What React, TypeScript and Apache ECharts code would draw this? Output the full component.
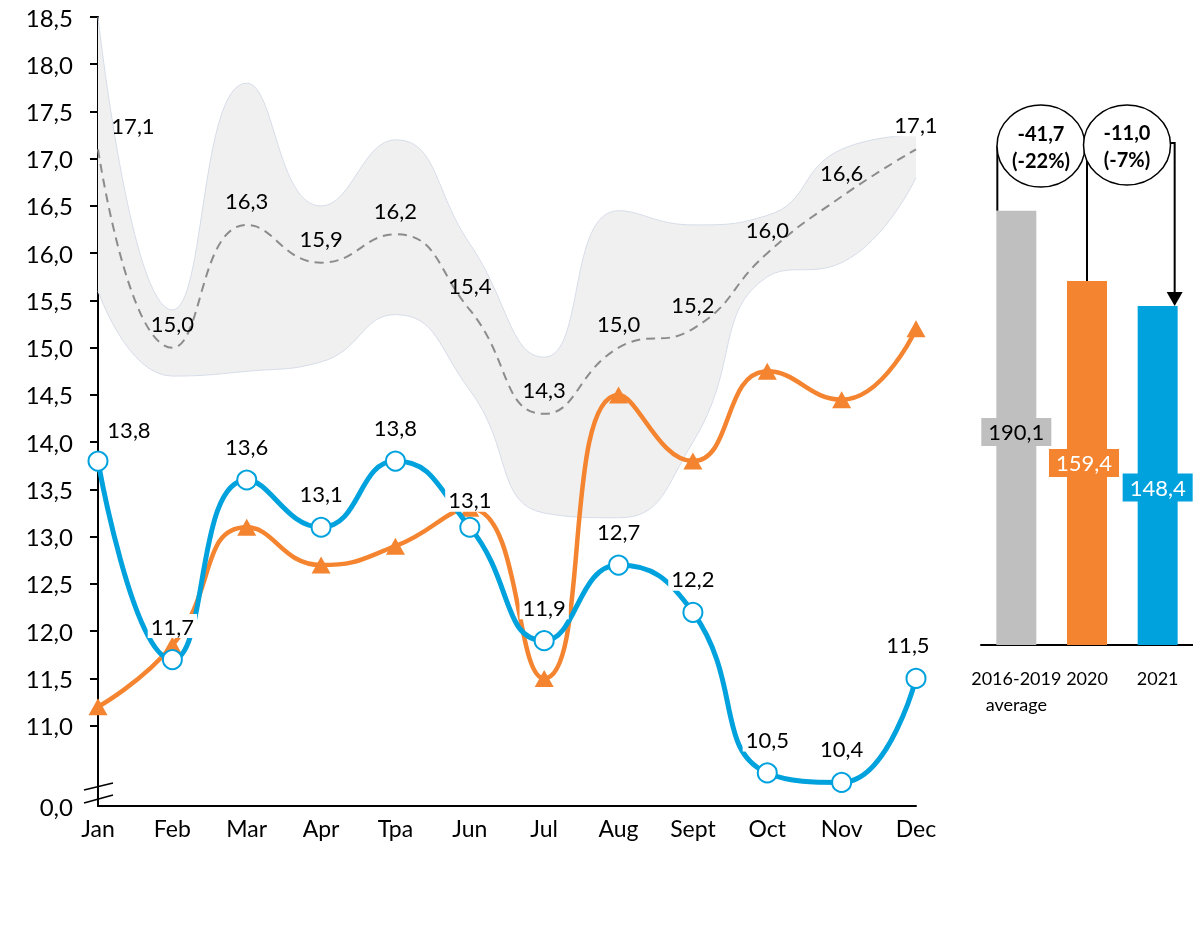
import React, { useEffect, useRef } from 'react';
import * as echarts from 'echarts';

const FONT = 'Lato, "Open Sans", "Noto Sans", sans-serif';
const BLUE = '#00A2DE';
const ORANGE = '#F4842F';
const GRAY = '#BFBFBF';

// ---- line chart data ----
const months = ['Jan', 'Feb', 'Mar', 'Apr', 'Tpa', 'Jun', 'Jul', 'Aug', 'Sept', 'Oct', 'Nov', 'Dec'];
const bandLow = [15.6, 14.7, 14.75, 14.85, 15.35, 14.55, 13.25, 13.2, 14.0, 15.75, 15.9, 16.8];
const bandHigh = [18.5, 15.4, 17.8, 16.5, 17.2, 16.1, 14.9, 16.45, 16.3, 16.4, 17.1, 17.25];
const avg = [17.1, 15.0, 16.3, 15.9, 16.2, 15.4, 14.3, 15.0, 15.2, 16.0, 16.6, 17.1];
const y2020 = [11.2, 11.85, 13.1, 12.7, 12.9, 13.3, 11.5, 14.5, 13.8, 14.75, 14.45, 15.2];
const y2021 = [13.8, 11.7, 13.6, 13.1, 13.8, 13.1, 11.9, 12.7, 12.2, 10.5, 10.4, 11.5];

// ---- axis ----
const axisBottom = 10.15; // shown as "0,0" (broken axis)
const yTicks = [11, 11.5, 12, 12.5, 13, 13.5, 14, 14.5, 15, 15.5, 16, 16.5, 17, 17.5, 18, 18.5];
const yMax = 18.5;

// ---- bar chart data ----
const barCats = ['2016-2019\naverage', '2020', '2021'];
const barVals = [190.1, 159.4, 148.4];
const annotations = ['-41,7\n(-22%)', '-11,0\n(-7%)'];

// ---- styles (kept apart from data) ----
const barColors = [GRAY, ORANGE, BLUE];
const barTextColors = ['#000', '#fff', '#fff'];
const barLabelOffsets = [[0, 4], [-3, 0], [0, 12]];
const avgLabelOffsets: Record<number, number[]> = { 0: [35, 0] };
const blueLabelOffsets: Record<number, number[]> = { 0: [31, 2], 5: [0, 6], 11: [-8, 0] };

const fmt = (v: number) => v.toFixed(1).replace('.', ',');

function buildOption() {
  const rangeData = bandHigh.map((h, i) => +(h - bandLow[i]).toFixed(3));
  const avgData = avg.map((v, i) => {
    const item: any = { value: v };
    if (avgLabelOffsets[i]) item.label = { offset: avgLabelOffsets[i] };
    if (i === avg.length - 1) item.label = { backgroundColor: '#fff', padding: [1, 2] };
    return item;
  });
  const blueData = y2021.map((v, i) => {
    const item: any = { value: v };
    if (blueLabelOffsets[i]) item.label = { offset: blueLabelOffsets[i] };
    return item;
  });
  const barData = barVals.map((v, i) => ({
    value: v,
    itemStyle: { color: barColors[i] },
    label: { backgroundColor: barColors[i], color: barTextColors[i], offset: barLabelOffsets[i] },
  }));

  return {
    animation: false,
    textStyle: { fontFamily: FONT },
    grid: [
      { left: 98, right: 277, top: 17, bottom: 134, outerBoundsMode: 'none' },
      { left: 981, right: 0, top: 74, bottom: 295, outerBoundsMode: 'none' },
    ],
    xAxis: [
      {
        type: 'category', gridIndex: 0, data: months, boundaryGap: false,
        axisLine: { lineStyle: { color: '#000', width: 2 } },
        axisTick: { show: false },
        axisLabel: { fontSize: 23, color: '#000', margin: 10, fontFamily: FONT, interval: 0 },
      },
      {
        type: 'category', gridIndex: 1, data: barCats,
        axisLine: { lineStyle: { color: '#000', width: 2 } },
        axisTick: { show: false },
        axisLabel: { fontSize: 18, lineHeight: 26, color: '#000', margin: 20, interval: 0, fontFamily: FONT },
      },
    ],
    yAxis: [
      {
        type: 'value', gridIndex: 0, min: axisBottom, max: yMax,
        axisLine: { show: true, lineStyle: { color: '#000', width: 2 } },
        axisTick: { show: true, length: 8, lineStyle: { color: '#000', width: 2 }, customValues: yTicks },
        axisLabel: {
          customValues: [axisBottom, ...yTicks],
          formatter: (v: number) => (v < 10.9 ? '0,0' : fmt(v)),
          fontSize: 24, color: '#000', margin: 25, fontFamily: FONT,
        },
        splitLine: { show: false },
      },
      { type: 'value', gridIndex: 1, min: 0, max: 250, show: false },
    ],
    series: [
      {
        name: 'low', type: 'line', stack: 'band', data: bandLow, smooth: 0.5, z: 1,
        symbol: 'none', lineStyle: { color: '#D6DCE8', width: 1 }, silent: true,
      },
      {
        name: 'range', type: 'line', stack: 'band', data: rangeData, smooth: 0.5, z: 1,
        symbol: 'none', lineStyle: { color: '#D6DCE8', width: 1 },
        areaStyle: { color: '#F0F0F0', opacity: 1 }, silent: true,
      },
      {
        name: 'avg', type: 'line', data: avgData, smooth: 0.5, z: 2,
        symbol: 'circle', symbolSize: 2, showSymbol: true,
        itemStyle: { color: 'rgba(0,0,0,0)', borderWidth: 0 },
        lineStyle: { color: '#8C8C8C', width: 2, type: [9, 6] },
        label: {
          show: true, position: 'top', distance: 12, fontSize: 22, color: '#000', fontFamily: FONT,
          formatter: (p: any) => fmt(p.value),
        },
      },
      {
        name: '2020', type: 'line', data: y2020, smooth: 0.5, z: 3,
        symbol: 'triangle', symbolSize: [19, 17],
        itemStyle: { color: ORANGE },
        lineStyle: { color: ORANGE, width: 4.5 },
      },
      {
        name: '2021', type: 'line', data: blueData, smooth: 0.5, z: 4,
        symbol: 'circle', symbolSize: 19,
        itemStyle: { color: '#fff', borderColor: BLUE, borderWidth: 2 },
        lineStyle: { color: BLUE, width: 5 },
        label: {
          show: true, position: 'top', distance: 11, fontSize: 22, color: '#000', fontFamily: FONT,
          backgroundColor: '#fff', padding: [1, 3],
          formatter: (p: any) => fmt(p.value),
        },
      },
      {
        name: 'totals', type: 'bar', xAxisIndex: 1, yAxisIndex: 1, data: barData, barWidth: 40,
        label: {
          show: true, position: 'inside', fontSize: 22, padding: [3, 7], fontFamily: FONT,
          formatter: (p: any) => fmt(p.value),
        },
      },
    ],
  };
}

export default function App() {
  const ref = useRef<HTMLDivElement>(null);
  useEffect(() => {
    const chart = echarts.init(ref.current!, null, { renderer: 'svg' });
    chart.setOption(buildOption() as any);

    const top = (i: number) => chart.convertToPixel({ gridIndex: 1 } as any, [i, barVals[i]]) as number[];
    const g = top(0);
    const o = top(1);
    const b = top(2);
    const c1 = { cx: 1041, cy: 146, rx: 44, ry: 41 };
    const c2 = { cx: 1127, cy: 145, rx: 43.5, ry: 40 };
    const stroke = { stroke: '#000', lineWidth: 2, fill: 'none' };
    const ax = b[0] + 17;
    const elements: any[] = [
      // axis break marker
      { type: 'line', shape: { x1: 84, y1: 790, x2: 113, y2: 783 }, style: { stroke: '#000', lineWidth: 1.5 } },
      { type: 'line', shape: { x1: 84, y1: 803, x2: 113, y2: 795 }, style: { stroke: '#000', lineWidth: 1.5 } },
      // connectors
      { type: 'polyline', shape: { points: [[g[0] - 19, g[1]], [g[0] - 19, c1.cy]] }, style: stroke },
      { type: 'polyline', shape: { points: [[c1.cx + c1.rx - 3, 143], [c2.cx - c2.rx + 8, 143]] }, style: stroke },
      { type: 'polyline', shape: { points: [[o[0], 143], [o[0], o[1]]] }, style: stroke },
      { type: 'polyline', shape: { points: [[c2.cx + c2.rx - 1, 143], [ax, 143], [ax, b[1] - 13]] }, style: stroke },
      { type: 'polygon', shape: { points: [[ax - 8, b[1] - 14], [ax + 8, b[1] - 14], [ax, b[1]]] }, style: { fill: '#000' } },
      // circles
      { type: 'ellipse', shape: c1, style: { stroke: '#000', lineWidth: 1.5, fill: '#fff' }, z: 10 },
      { type: 'ellipse', shape: c2, style: { stroke: '#000', lineWidth: 1.5, fill: '#fff' }, z: 10 },
      {
        type: 'text', x: c1.cx, y: c1.cy, z: 11,
        style: { text: annotations[0], fontSize: 20, fontWeight: 'bold', fontFamily: FONT, lineHeight: 27, align: 'center', verticalAlign: 'middle', fill: '#000' },
      },
      {
        type: 'text', x: c2.cx, y: c2.cy, z: 11,
        style: { text: annotations[1], fontSize: 20, fontWeight: 'bold', fontFamily: FONT, lineHeight: 27, align: 'center', verticalAlign: 'middle', fill: '#000' },
      },
    ];
    chart.setOption({ graphic: { elements } } as any);
    return () => chart.dispose();
  }, []);
  return <div ref={ref} style={{ position: 'fixed', left: 0, top: 0, width: 1193, height: 940 }} />;
}
